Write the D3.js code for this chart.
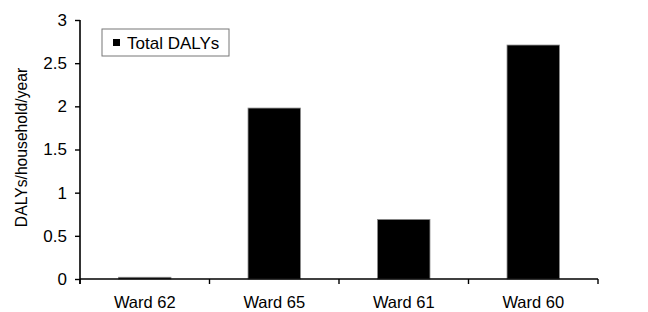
<!DOCTYPE html>
<html lang="en">
<head>
<meta charset="UTF-8">
<title>Total DALYs by ward</title>
<script src="https://d3js.org/d3.v7.min.js"></script>
<style>
  body { margin: 0; background: #fff; }
  text { font-family: "Liberation Sans", Arial, sans-serif; fill: #000; }
</style>
</head>
<body>
<div id="chart"></div>
<script>
// chart data
const wards = ["Ward 62", "Ward 65", "Ward 61", "Ward 60"];
const totalDalys = [0.02, 1.98, 0.69, 2.71];
const yTicks = [0, 0.5, 1, 1.5, 2, 2.5, 3];
const seriesName = "Total DALYs";

const W = 648, H = 312;
const margin = { top: 20, right: 50, bottom: 33, left: 80 };
const width = W - margin.left - margin.right;
const height = H - margin.top - margin.bottom;

const svg = d3.select("#chart").append("svg")
    .attr("width", W)
    .attr("height", H);

const g = svg.append("g")
    .attr("transform", `translate(${margin.left},${margin.top})`);

const x = d3.scaleBand()
    .domain(wards)
    .range([0, width])
    .padding(0);

const y = d3.scaleLinear()
    .domain([0, 3])
    .range([height, 0]);

// bars (about 40% of the category width, centred)
const barW = x.bandwidth() * 0.405;
g.selectAll("rect.bar")
    .data(wards.map((w, i) => ({ ward: w, value: totalDalys[i] })))
    .join("rect")
    .attr("class", "bar")
    .attr("x", d => x(d.ward) + (x.bandwidth() - barW) / 2)
    .attr("y", d => y(d.value))
    .attr("width", barW)
    .attr("height", d => y(0) - y(d.value))
    .attr("fill", "#000")
    .attr("stroke", "#8a8a8a")
    .attr("stroke-width", 0.8);

// y axis
const yAxis = g.append("g")
    .call(d3.axisLeft(y).tickValues(yTicks).tickFormat(d3.format("")).tickSize(5).tickPadding(8));
yAxis.select(".domain").attr("stroke", "#000").attr("stroke-width", 1.6)
    .attr("d", `M0,${height + 5}V0`);
yAxis.selectAll(".tick line").attr("stroke", "#000").attr("stroke-width", 1.4);
yAxis.selectAll(".tick text").style("font-size", "17px");

// x axis: ticks sit on the category boundaries
const xAxis = g.append("g")
    .attr("transform", `translate(0,${height})`);
xAxis.append("line")
    .attr("x1", 0).attr("x2", width)
    .attr("stroke", "#000").attr("stroke-width", 1.4);
const bounds = wards.map(w => x(w)).concat([x(wards[wards.length - 1]) + x.bandwidth()]);
xAxis.selectAll("line.tick")
    .data(bounds)
    .join("line")
    .attr("class", "tick")
    .attr("x1", d => d).attr("x2", d => d)
    .attr("y1", 0).attr("y2", 5)
    .attr("stroke", "#000").attr("stroke-width", 1.4);
xAxis.selectAll("text.lbl")
    .data(wards)
    .join("text")
    .attr("class", "lbl")
    .attr("x", d => x(d) + x.bandwidth() / 2)
    .attr("y", 29)
    .attr("text-anchor", "middle")
    .style("font-size", "16.5px")
    .text(d => d);

// y axis title
g.append("text")
    .attr("transform", `translate(${-53},${height / 2 - 2}) rotate(-90)`)
    .attr("text-anchor", "middle")
    .style("font-size", "15.7px")
    .text("DALYs/household/year");

// legend
const legend = g.append("g").attr("transform", "translate(22,9)");
legend.append("rect")
    .attr("width", 127).attr("height", 27)
    .attr("fill", "#fff")
    .attr("stroke", "#777").attr("stroke-width", 1);
legend.append("rect")
    .attr("x", 11).attr("y", 10)
    .attr("width", 7).attr("height", 7)
    .attr("fill", "#000");
legend.append("text")
    .attr("x", 25).attr("y", 19.5)
    .style("font-size", "17px")
    .text(seriesName);
</script>
</body>
</html>
